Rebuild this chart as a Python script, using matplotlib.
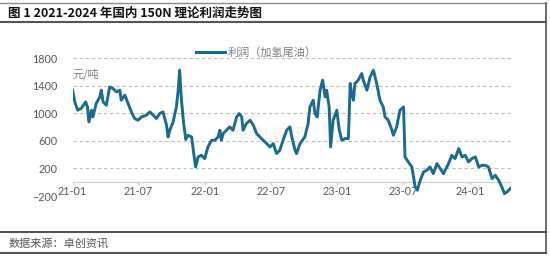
import matplotlib
matplotlib.use("Agg")
import matplotlib.pyplot as plt
import pandas as pd
from matplotlib.lines import Line2D

plt.rcParams['font.family'] = ['Lato', 'Noto Sans CJK SC', 'DejaVu Sans']

title = "图 1 2021-2024 年国内 150N 理论利润走势图"
source = "数据来源：卓创资讯"
series_name = "利润（加氢尾油）"
unit = "元/吨"

# days since 2021-01-01 and profit (yuan/ton)
days = [0, 6, 14, 24, 36, 41, 45, 52, 56, 65, 75, 79, 84, 93, 102, 111, 121, 130, 134, 144,
        153, 162, 171, 180, 190, 203, 213, 222, 231, 240, 249, 254, 259, 263, 268, 277, 286, 291,
        295, 300, 306, 312, 318, 328, 333, 339, 346, 355, 364, 373, 383, 392, 401, 406, 410, 415,
        424, 433, 442, 452, 459, 466, 470, 479, 489, 498, 507, 516, 525, 535, 544, 553, 562, 571,
        580, 590, 599, 604, 613, 617, 627, 640, 649, 654, 663, 668, 674, 682, 689, 696, 700, 707,
        711, 718, 728, 735, 742, 751, 760, 765, 769, 774, 778, 787, 797, 801, 811, 820, 829, 838,
        847, 856, 861, 870, 880, 884, 893, 902, 912, 914, 916, 925, 935, 944, 950, 958, 967, 976,
        985, 994, 1004, 1013, 1022, 1036, 1045, 1054, 1064, 1073, 1082, 1091, 1100, 1110, 1119,
        1128, 1137, 1146, 1156, 1165, 1174, 1183, 1190, 1197, 1206]
profit = [1334, 1165, 1044, 1073, 1165, 1092, 874, 1044, 947, 1141, 1237, 1334, 1165, 1117, 1382,
          1358, 1310, 1334, 1189, 1262, 1141, 1020, 924, 899, 947, 972, 1020, 972, 924, 996, 1020,
          924, 827, 657, 754, 874, 1092, 1334, 1624, 1189, 850, 620, 682, 657, 450, 222, 367, 391,
          343, 512, 609, 609, 657, 754, 609, 706, 754, 802, 754, 947, 996, 947, 754, 851, 899, 827,
          706, 657, 609, 561, 512, 561, 416, 464, 609, 754, 802, 657, 464, 416, 561, 657, 851,
          1092, 1189, 996, 947, 1334, 1479, 1237, 1334, 1092, 512, 899, 1044, 754, 609, 633, 633,
          1431, 1286, 1189, 1431, 1479, 1576, 1479, 1334, 1527, 1624, 1431, 1189, 1092, 947, 899,
          754, 682, 802, 1044, 1092, 754, 367, 295, 222, -68, -116, 29, 149, 174, 222, 126, 271,
          198, 126, 271, 391, 343, 488, 367, 391, 295, 343, 367, 222, 246, 246, 222, 53, 101, 29,
          -68, -164, -140, -92]

x_ticks = ["2021-01-01", "2021-07-01", "2022-01-01", "2022-07-01", "2023-01-01", "2023-07-01", "2024-01-01"]
x_tick_labels = ["21-01", "21-07", "22-01", "22-07", "23-01", "23-07", "24-01"]
y_ticks = [-200, 200, 600, 1000, 1400, 1800]

dates = pd.Timestamp("2021-01-01") + pd.to_timedelta(days, unit="D")
tick_dates = pd.to_datetime(x_ticks)

fig = plt.figure(figsize=(5.5, 2.58), dpi=100)
ax = fig.add_axes([0.132, 0.240, 0.797, 0.535])

line_color = "#1b6a90"
ax.plot(dates, profit, color=line_color, lw=2.1, solid_joinstyle="round", zorder=3)

ax.set_ylim(-200, 1800)
ax.set_xlim(pd.Timestamp("2021-01-01"), pd.Timestamp("2021-01-01") + pd.Timedelta(days=1208))
ax.set_yticks(y_ticks)
ax.set_xticks(tick_dates)
ax.set_xticklabels(x_tick_labels)

for s in ax.spines.values():
    s.set_visible(False)
ax.grid(axis="y", color="#bdbdbd", linestyle=(0, (3, 2.5)), lw=0.8)
ax.tick_params(axis="both", length=0, labelsize=7.8, colors="#595959")
ax.tick_params(axis="x", pad=-3.5)
ax.tick_params(axis="y", pad=11)
for lbl in ax.get_xticklabels():
    lbl.set_verticalalignment("center")
    lbl.set_bbox(dict(facecolor="white", edgecolor="none", pad=0.6))

# zero axis line with tick marks
ax.axhline(0, color="#d0d0d0", lw=0.9, zorder=2)
sec = ax.secondary_xaxis(0, transform=ax.transData)
sec.set_xticks(tick_dates)
sec.set_xticklabels([])
sec.tick_params(axis="x", direction="out", length=3, color="#c8c8c8", width=0.8)
sec.spines["bottom"].set_visible(False)

ax.text(0.0, 1560, unit, fontsize=8, color="#7f7f7f", ha="left", va="center",
        transform=ax.get_yaxis_transform(), family=["Noto Sans CJK SC"])

# legend
handle = Line2D([0], [0], color=line_color, lw=2.2)
fig.legend([handle], [series_name], loc="center", bbox_to_anchor=(0.466, 0.798),
           frameon=False, fontsize=8, handlelength=2.6, handletextpad=0.2,
           labelcolor="#7f7f7f", prop={"family": ["Noto Sans CJK SC"], "size": 8})

# watermark
ax.text(0.45, 0.45, "卓 创 资 讯", fontsize=11, color="#f0f0f0", ha="center", va="center",
        family=["Noto Sans CJK SC"], transform=ax.transAxes, zorder=1)

# frame lines
fig.add_artist(Line2D([0, 0.993], [0.990, 0.990], color="#8a8a8a", lw=1.0, transform=fig.transFigure))
fig.add_artist(Line2D([0, 0.993], [0.915, 0.915], color="#555555", lw=1.5, transform=fig.transFigure))
fig.add_artist(Line2D([0, 0.993], [0.100, 0.100], color="#555555", lw=1.5, transform=fig.transFigure))
fig.add_artist(Line2D([0, 0.993], [0.020, 0.020], color="#555555", lw=1.5, transform=fig.transFigure))
fig.add_artist(Line2D([0.993, 0.993], [0.020, 0.990], color="#555555", lw=1.2, transform=fig.transFigure))

fig.text(0.015, 0.948, title, fontsize=9, fontweight="bold", color="#111111",
         ha="left", va="center", family=["Noto Sans CJK SC"])
fig.text(0.015, 0.058, source, fontsize=8, color="#555555", ha="left", va="center",
         family=["Noto Sans CJK SC"])

fig.savefig("out.png", dpi=100)
